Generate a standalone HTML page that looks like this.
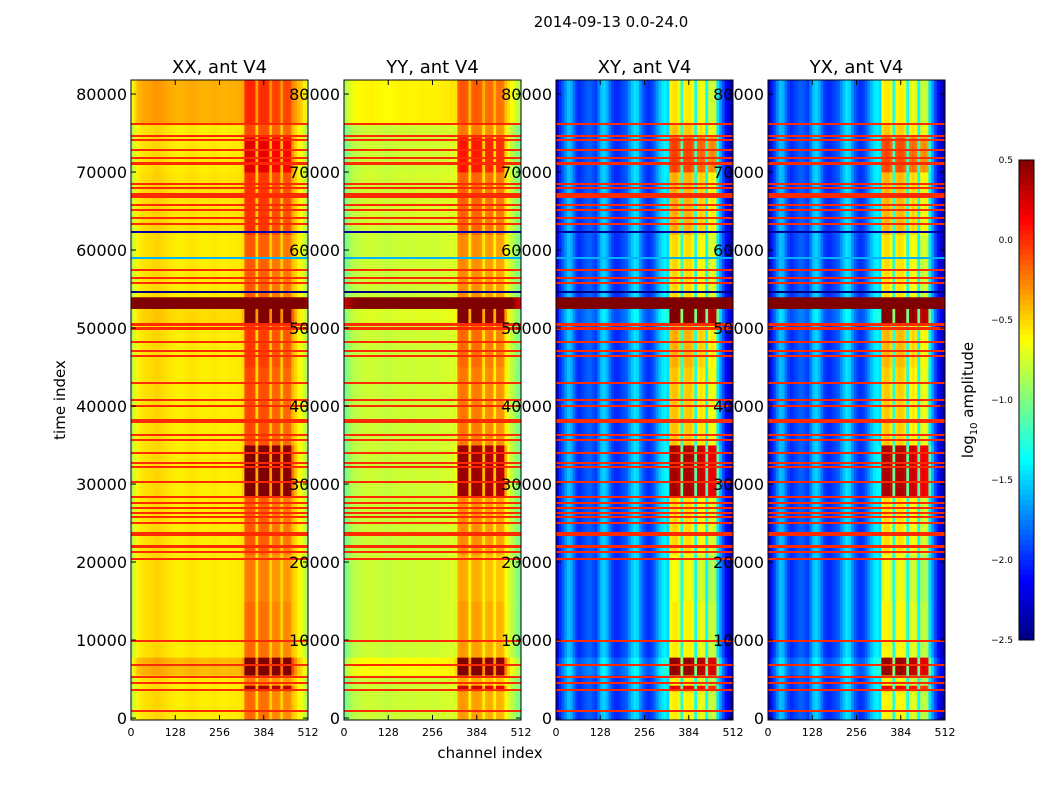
<!DOCTYPE html>
<html><head><meta charset="utf-8"><style>
body{margin:0;background:#fff;}
svg text{font-family:"DejaVu Sans","Liberation Sans",sans-serif;}
</style></head><body>
<svg id="fig" width="1050" height="800" xmlns="http://www.w3.org/2000/svg">
<text x="611" y="27" font-size="15" text-anchor="middle">2014-09-13 0.0-24.0</text>
<text x="490" y="758" font-size="15" text-anchor="middle">channel index</text>
<text transform="translate(65,400) rotate(-90)" font-size="15" text-anchor="middle">time index</text>
<text transform="translate(973,400) rotate(-90)" font-size="15" text-anchor="middle">log<tspan font-size="10" dy="4">10</tspan><tspan dy="-4"> amplitude</tspan></text>
<g id="cells"></g>
<g id="axes"></g>
</svg>
<script>
// ---- data ----
const panelNames = ["XX, ant V4","YY, ant V4","XY, ant V4","YX, ant V4"];
const xTicks = [0,128,256,384,512];
const yTicks = [0,10000,20000,30000,40000,50000,60000,70000,80000];
const cbTicks = [0.5,0.0,-0.5,-1.0,-1.5,-2.0,-2.5];
// channel profiles, 64 bins of 8 channels each (log10 amplitude)
const profXX = [-0.85,-0.7,-0.6,-0.57,-0.55,-0.54,-0.53,-0.52,-0.5,-0.5,-0.5,-0.52,-0.53,-0.55,-0.56,-0.57,-0.58,-0.58,-0.58,-0.57,-0.56,-0.55,-0.55,-0.56,-0.57,-0.58,-0.58,-0.58,-0.57,-0.56,-0.56,-0.57,-0.58,-0.58,-0.58,-0.57,-0.57,-0.57,-0.56,-0.56,-0.55,-0.3,-0.28,-0.28,-0.3,-0.55,-0.32,-0.3,-0.3,-0.33,-0.5,-0.38,-0.36,-0.38,-0.52,-0.38,-0.37,-0.4,-0.48,-0.52,-0.6,-0.65,-0.75,-0.9];
const profYY = [-1.05,-0.95,-0.88,-0.84,-0.82,-0.8,-0.79,-0.78,-0.78,-0.77,-0.77,-0.78,-0.78,-0.79,-0.8,-0.8,-0.8,-0.79,-0.78,-0.78,-0.77,-0.77,-0.77,-0.78,-0.78,-0.78,-0.77,-0.77,-0.76,-0.76,-0.76,-0.77,-0.77,-0.77,-0.76,-0.76,-0.75,-0.75,-0.74,-0.74,-0.73,-0.45,-0.42,-0.42,-0.45,-0.62,-0.45,-0.43,-0.44,-0.47,-0.6,-0.5,-0.48,-0.5,-0.62,-0.5,-0.5,-0.53,-0.65,-0.72,-0.8,-0.88,-0.95,-1.05];
const profXY = [-2.2,-2.0,-1.85,-1.7,-1.55,-1.6,-1.8,-1.95,-2.0,-1.95,-1.9,-1.85,-1.85,-1.9,-1.95,-1.75,-1.55,-1.5,-1.6,-1.8,-1.95,-2.0,-2.0,-1.95,-1.9,-1.85,-1.7,-1.55,-1.45,-1.5,-1.7,-1.85,-1.95,-2.0,-1.95,-1.85,-1.7,-1.55,-1.45,-1.4,-1.5,-0.75,-0.7,-0.7,-0.8,-1.3,-0.75,-0.72,-0.72,-0.8,-1.35,-0.85,-0.8,-0.85,-1.4,-0.95,-0.9,-0.95,-1.5,-1.7,-1.9,-2.1,-2.25,-2.35];
const profYX = [-2.25,-2.05,-1.9,-1.7,-1.55,-1.6,-1.8,-1.95,-2.0,-1.95,-1.9,-1.85,-1.85,-1.9,-1.95,-1.75,-1.55,-1.5,-1.6,-1.8,-1.95,-2.0,-2.0,-1.95,-1.9,-1.85,-1.7,-1.55,-1.45,-1.5,-1.7,-1.85,-1.95,-2.0,-1.95,-1.85,-1.7,-1.55,-1.45,-1.4,-1.5,-0.78,-0.72,-0.72,-0.82,-1.3,-0.78,-0.74,-0.74,-0.82,-1.35,-0.88,-0.82,-0.88,-1.4,-0.98,-0.92,-0.98,-1.5,-1.7,-1.9,-2.1,-2.25,-2.35];
// RFI sensitivity per channel bin
const rfiMask = [0,0,0,0,0,0,0,0,0,0,0,0,0,0,0,0,0,0,0,0,0,0,0,0,0,0,0,0,0,0,0,0,0,0,0,0,0,0,0,0,0.1,1,1,1,1,0.2,1,1,1,1,0.2,1,1,1,0.2,1,1,1,0.3,0.1,0,0,0,0];
// time bands: start, end, broadband offset (parallel / cross), rfi offset
const bandStart = [-250,3500,4200,5500,7800,15000,21000,28500,35000,45000,50500,52500,54000,62000,70000,74500,76200];
const bandEnd   = [3500,4200,5500,7800,15000,21000,28500,35000,45000,50500,52500,54000,62000,70000,74500,76200,81800];
const bandBroad = [0,0,0,0.15,0,0,0,0,0,0,0.05,1.3,0,0.02,0,0,0.18];
const bandBroadCross = [0,0,0,0.12,0,0,0,0,0,0,0.1,2.8,0,0,0,0,0];
const bandRfi   = [0.1,0.7,0.05,0.8,0.1,0.05,0.15,0.85,0.2,0.25,0.9,1.0,0.15,0.25,0.5,0.2,0.12];
const panelRfiGain = [1,1,1.3,1.3];
// flagged time rows (drawn across each panel)
const flagTimes = [900,3590,4490,5250,6800,9870,20380,21280,22050,23460,23720,25000,25770,26280,26920,27560,28330,30260,32180,32700,33970,35640,36280,37950,38200,40000,40770,42950,46400,47050,48200,50000,50400,54600,55770,56400,57440,63330,64100,65130,65770,67000,67950,68460,71150,71800,72800,74100,74600,76150];
const flagWidth = [2,2,2,2,2,2,2,2,3,2,2,2,2,2,2,2,2,2,2,2,2,2,2,2,2,2,2,2,2,2,2,3,3,2,2,2,2,2,2,2,2,5,2,2,3,2,2,2,2,2];
const flagValue = 0.0;
const lowLines = [62400,54700,59100];
const lowValues = [-2.4,-2.5,-1.6];

// ---- layout ----
const panelX = [131,344,556,768];
const panelW = 177, yTop = 80, yBot = 720;
const tMin = -250, tMax = 81800, vMin = -2.5, vMax = 0.5;
const ns = "http://www.w3.org/2000/svg";
function yS(t){return yBot-(t-tMin)/(tMax-tMin)*(yBot-yTop);}
function xS(p,ch){return panelX[p]+ch/512*panelW;}
function jet(v){
  let f=(v-vMin)/(vMax-vMin); f=Math.max(0,Math.min(1,f));
  const c=x=>Math.round(255*Math.max(0,Math.min(1,x)));
  return `rgb(${c(1.5-Math.abs(4*f-3))},${c(1.5-Math.abs(4*f-2))},${c(1.5-Math.abs(4*f-1))})`;
}
function mk(tag,attrs,parent){const e=document.createElementNS(ns,tag);for(const k in attrs)e.setAttribute(k,attrs[k]);parent.appendChild(e);return e;}
const cellsG=document.getElementById('cells'), axesG=document.getElementById('axes');
const profs=[profXX,profYY,profXY,profYX];
for(let p=0;p<4;p++){
  const g=mk('g',{},cellsG);
  
  
  const broad = p<2 ? bandBroad : bandBroadCross;
  for(let b=0;b<bandStart.length;b++){
    const y0=yS(bandEnd[b]), y1=yS(bandStart[b]);
    for(let i=0;i<64;i++){
      const v=profs[p][i]+broad[b]+bandRfi[b]*rfiMask[i]*panelRfiGain[p];
      const x0=xS(p,i*8), x1=xS(p,i*8+8);
      const r=mk('rect',{x:x0.toFixed(2),y:y0.toFixed(2),width:(x1-x0+0.4).toFixed(2),height:(y1-y0+0.4).toFixed(2),fill:jet(v)},g);
      
      
    }
  }
  for(let k=0;k<flagTimes.length;k++){
    const r=mk('rect',{x:panelX[p],y:Math.round(yS(flagTimes[k])-flagWidth[k]/2),width:panelW,height:flagWidth[k],fill:jet(flagValue)},g);
    
    
  }
  for(let k=0;k<lowLines.length;k++){
    const r=mk('rect',{x:panelX[p],y:Math.round(yS(lowLines[k])),width:panelW,height:2,fill:jet(lowValues[k])},g);
    
    
  }
  const fr=mk('rect',{x:panelX[p],y:yTop,width:panelW,height:yBot-yTop,fill:'none',stroke:'#000','stroke-width':1},axesG);
  
  
  const tt=mk('text',{x:panelX[p]+panelW/2,y:73,'font-size':18,'text-anchor':'middle'},axesG);
  tt.textContent=panelNames[p];
  
  
  for(const xt of xTicks){
    const x=xS(p,xt);
    mk('line',{x1:x,x2:x,y1:yBot,y2:yBot-5,stroke:'#000'},axesG);
    mk('line',{x1:x,x2:x,y1:yTop,y2:yTop+5,stroke:'#000'},axesG);
    const t=mk('text',{x:x,y:736,'font-size':11,'text-anchor':'middle'},axesG);
    t.textContent=xt;
    
    
  }
  for(const yt of yTicks){
    const y=yS(yt);
    mk('line',{x1:panelX[p],x2:panelX[p]+5,y1:y,y2:y,stroke:'#000'},axesG);
    mk('line',{x1:panelX[p]+panelW,x2:panelX[p]+panelW-5,y1:y,y2:y,stroke:'#000'},axesG);
    const t=mk('text',{x:panelX[p]-4,y:y+6,'font-size':16,'text-anchor':'end'},axesG);
    t.textContent=yt;
    
    
  }
}
// colorbar
const cbX=1019,cbW=15,cbTop=160,cbBot=640;
const cbg=mk('g',{},axesG);


for(let i=0;i<96;i++){
  const v=vMax-(i+0.5)*(vMax-vMin)/96;
  mk('rect',{x:cbX,y:cbTop+i*5,width:cbW,height:5.4,fill:jet(v)},cbg);
}
mk('rect',{x:cbX,y:cbTop,width:cbW,height:cbBot-cbTop,fill:'none',stroke:'#000'},cbg);
for(const v of cbTicks){
  const y=cbTop+(vMax-v)/(vMax-vMin)*(cbBot-cbTop);
  const t=mk('text',{x:1013,y:y+3,'font-size':9,'text-anchor':'end'},cbg);
  t.textContent=(v<0?'\u2212':'')+Math.abs(v).toFixed(1);
  
  
}
</script>
</body></html>
